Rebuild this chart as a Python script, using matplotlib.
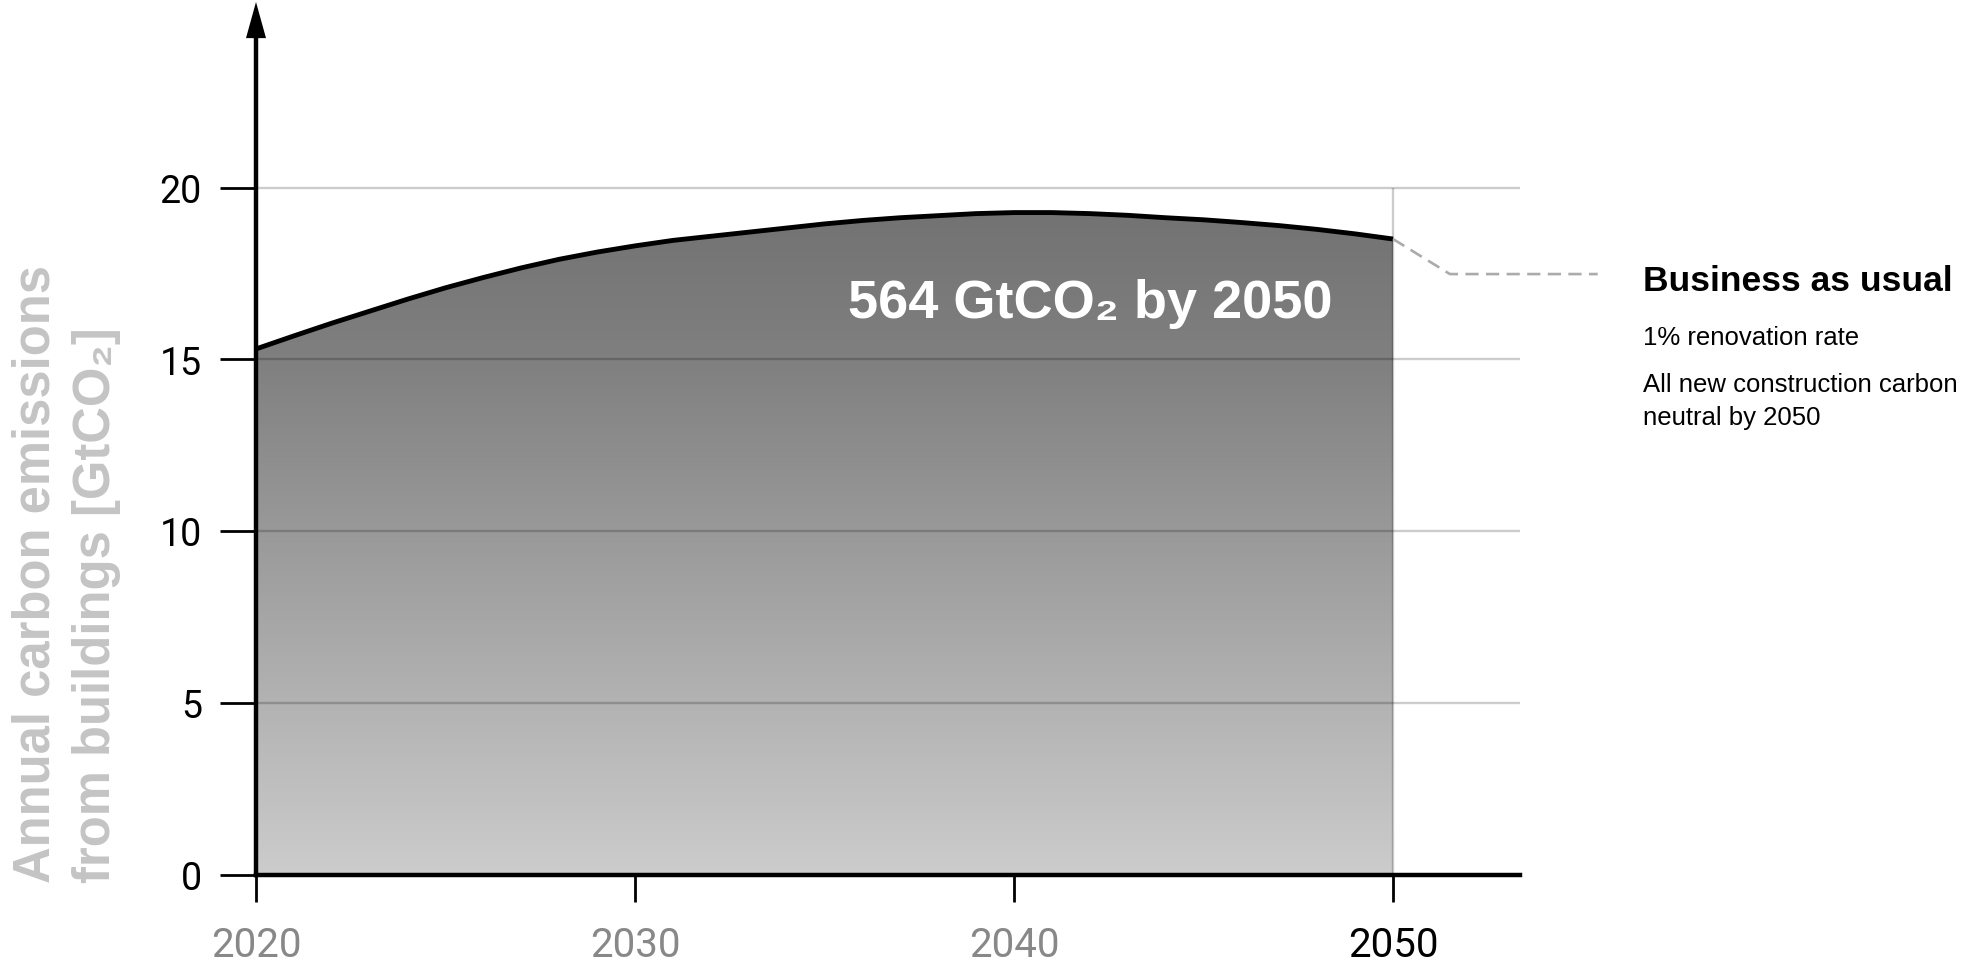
import numpy as np
import matplotlib
matplotlib.use("Agg")
import matplotlib.pyplot as plt
from matplotlib.colors import LinearSegmentedColormap

# ---- data -------------------------------------------------------------
years = list(range(2020, 2051))
emissions = [15.30, 15.68, 16.05, 16.40, 16.75, 17.08, 17.38, 17.66, 17.91, 18.12,
             18.30, 18.46, 18.58, 18.70, 18.82, 18.94, 19.04, 19.12, 19.18, 19.24,
             19.27, 19.27, 19.24, 19.19, 19.12, 19.06, 18.98, 18.89, 18.78, 18.65,
             18.50]
x_ticks = [2020, 2030, 2040, 2050]
x_tick_labels = ["2020", "2030", "2040", "2050"]
y_ticks = [0, 5, 10, 15, 20]
y_tick_labels = ["0", "5", "10", "15", "20"]
total_label = "564 GtCO\u2082 by 2050"
scenario_title = "Business as usual"
scenario_notes = ["1% renovation rate", "All new construction carbon", "neutral by 2050"]
y_label_lines = ["Annual carbon emissions", "from buildings [GtCO\u2082]"]

# ---- styling ----------------------------------------------------------
W, H = 1970, 962
TEXT_FONT = ["Liberation Sans", "DejaVu Sans"]
TICK_FONT = ["Roboto", "DejaVu Sans"]
GRID = (0, 0, 0, 0.2)
X_RIGHT = 2053.35
Y_TOP = 25.4

fig = plt.figure(figsize=(W / 100, H / 100), dpi=100)
ax = fig.add_axes([256 / W, (H - 875.5) / H, 1264 / W, Y_TOP * 34.35 / H])

# vertical grey gradient under the curve
vmax = max(emissions)
cmap = LinearSegmentedColormap.from_list(
    "fill", [(0.0, (0.80, 0.80, 0.80)), (15 / vmax, (0.50, 0.50, 0.50)),
             (1.0, (0.45, 0.45, 0.45))])
grad = np.linspace(0, vmax, 512).reshape(-1, 1)
im = ax.imshow(grad, extent=(years[0], years[-1], 0, vmax), origin="lower",
               aspect="auto", cmap=cmap, vmin=0, vmax=vmax,
               interpolation="bilinear", zorder=1)
area = ax.fill_between(years, emissions, 0, facecolor="none", edgecolor="none")
im.set_clip_path(area.get_paths()[0], transform=ax.transData)

# grid
for v in y_ticks[1:]:
    ax.hlines(v, years[0], X_RIGHT, color=GRID, lw=1.7, zorder=2)
ax.vlines(years[-1], 0, y_ticks[-1], color=GRID, lw=1.7, zorder=2)

# emission curve
ax.plot(years, emissions, color="black", lw=3.5, solid_capstyle="butt",
        solid_joinstyle="round", zorder=3)

# leader line to the scenario description
lead_x = [years[-1], years[-1] + 1.5, years[-1] + 5.4]
lead_y = [emissions[-1], emissions[-1] - 1.02, emissions[-1] - 1.02]
ax.plot(lead_x, lead_y, color="#ababab", lw=1.9, linestyle=(0, (5, 2.8)),
        clip_on=False, zorder=3)

ax.text(2042.0, 16.23, total_label, color="white", fontsize=39,
        fontweight="bold", family=TEXT_FONT, ha="center", va="baseline",
        zorder=4)

# axes
ax.set_xlim(years[0], X_RIGHT)
ax.set_ylim(0, Y_TOP)
for side in ("top", "right"):
    ax.spines[side].set_visible(False)
for side in ("left", "bottom"):
    ax.spines[side].set_linewidth(3.2)
    ax.spines[side].set_zorder(5)
ax.spines["left"].set_bounds(0, Y_TOP - 0.6)

ax.annotate("", xy=(years[0], Y_TOP), xytext=(years[0], Y_TOP - 2),
            xycoords="data",
            arrowprops=dict(arrowstyle="-|>,head_length=2.6,head_width=0.72",
                            mutation_scale=10, lw=0, fc="black", ec="black",
                            shrinkA=0, shrinkB=0),
            annotation_clip=False, zorder=6)

ax.set_xticks(x_ticks)
ax.set_xticklabels(x_tick_labels)
ax.set_yticks(y_ticks)
ax.set_yticklabels(y_tick_labels)
ax.tick_params(axis="x", length=19.4, width=2, pad=17, labelsize=29)
ax.tick_params(axis="y", length=26, width=2, pad=13, labelsize=27)
for lab in ax.get_xticklabels():
    lab.set_fontfamily(TICK_FONT)
    lab.set_color("black" if lab.get_text() == "2050" else "#888888")
for lab in ax.get_yticklabels():
    lab.set_fontfamily(TICK_FONT)
    lab.set_color("black")

# y-axis title, two lines reading bottom to top
for xb, line in zip((50, 110), y_label_lines):
    fig.text(xb / W, 1 - 883 / H, line, rotation=90, rotation_mode="anchor",
             ha="left", va="baseline", fontsize=36.5, fontweight="bold",
             color="#c4c4c4", family=TEXT_FONT)

# scenario description
fig.text(1643 / W, 1 - 291 / H, scenario_title, fontsize=25.5,
         fontweight="bold", color="black", family=TEXT_FONT,
         ha="left", va="baseline")
for yb, line in zip((345, 392, 425), scenario_notes):
    fig.text(1643 / W, 1 - yb / H, line, fontsize=18.5, color="black",
             family=TEXT_FONT, ha="left", va="baseline")

fig.savefig("out.png", dpi=100)
